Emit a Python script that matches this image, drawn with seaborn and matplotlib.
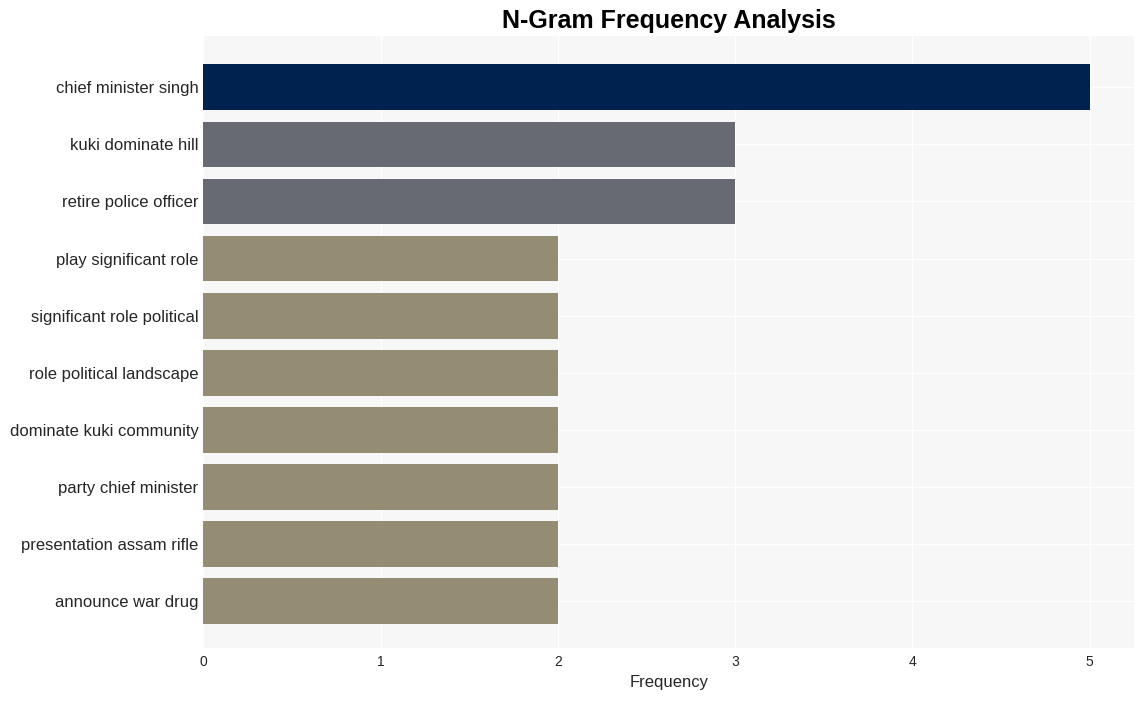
import pandas as pd
import matplotlib.pyplot as plt
import seaborn as sns

ngrams = ['chief minister singh', 'kuki dominate hill', 'retire police officer',
          'play significant role', 'significant role political', 'role political landscape',
          'dominate kuki community', 'party chief minister', 'presentation assam rifle',
          'announce war drug']
counts = [5, 3, 3, 2, 2, 2, 2, 2, 2, 2]
bar_colors = ['#00224e', '#676a72', '#676a72', '#948d74', '#948d74', '#948d74',
              '#948d74', '#948d74', '#948d74', '#948d74']

df = pd.DataFrame({'ngram': ngrams, 'count': counts})

sns.set_style("whitegrid", {'axes.facecolor': '#f7f7f7', 'grid.color': 'white'})
plt.rcParams['font.family'] = ['Liberation Sans', 'DejaVu Sans']

fig, ax = plt.subplots(figsize=(11.43, 7.01), dpi=100)
sns.barplot(data=df, x='count', y='ngram', hue='ngram', palette=bar_colors,
            legend=False, width=0.8, saturation=1, linewidth=0, ax=ax)

ax.set_title('N-Gram Frequency Analysis', fontsize=18, fontweight='bold', pad=6, color='black')
ax.set_xlabel('Frequency', fontsize=12, labelpad=4)
ax.set_ylabel('')
ax.set_xlim(0, 5.25)
ax.set_ylim(9.82, -0.89)
ax.tick_params(axis='y', labelsize=12, length=0)
ax.tick_params(axis='x', labelsize=10, length=0, pad=5)
ax.grid(True, axis='both', color='white', linewidth=1)
for s in ax.spines.values():
    s.set_visible(False)

plt.subplots_adjust(left=0.178, right=0.992, top=0.948, bottom=0.0756)
plt.savefig('out.png', dpi=100)
